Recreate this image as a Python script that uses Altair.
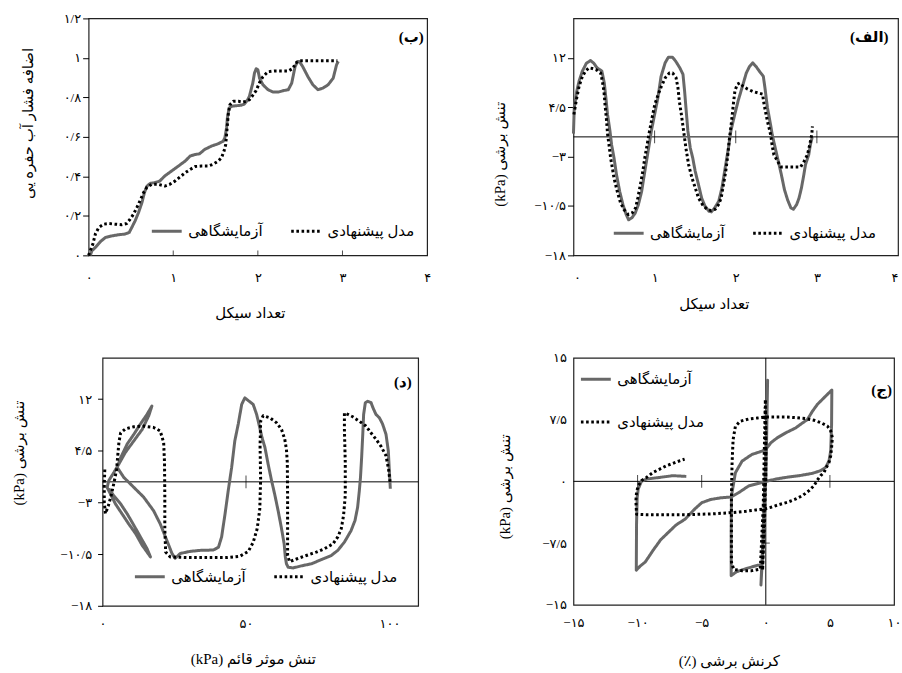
import altair as alt
import pandas as pd

FONT = "Liberation Serif, DejaVu Sans"
EXP = "آزمایشگاهی"
MOD = "مدل پیشنهادی"
SERIES = [EXP, MOD]
LINE_COLORS = ["#686868", "#000000"]
LINE_DASH = [[1, 0], [2.6, 2.6]]

# ---------------- panel (ب): pore pressure ratio vs cycles ----------------
b_exp_x = [0.02, 0.04, 0.08, 0.14, 0.20, 0.28, 0.35, 0.43, 0.48, 0.51, 0.55, 0.59, 0.63, 0.66, 0.69,
           0.73, 0.78, 0.84, 0.90, 0.98, 1.06, 1.14, 1.20, 1.26, 1.31, 1.37, 1.45, 1.53, 1.59, 1.61,
           1.63, 1.64, 1.66, 1.69, 1.75, 1.80, 1.84, 1.88, 1.90, 1.92, 1.94, 1.96, 1.98, 2.00, 2.02,
           2.06, 2.12, 2.18, 2.24, 2.30, 2.36, 2.40, 2.42, 2.44, 2.47, 2.49, 2.53, 2.59, 2.65, 2.71,
           2.77, 2.83, 2.89, 2.91, 2.93, 2.95]
b_exp_y = [0.0, 0.024, 0.04, 0.07, 0.091, 0.099, 0.104, 0.108, 0.116, 0.141, 0.175, 0.217, 0.267, 0.318, 0.351,
           0.365, 0.368, 0.376, 0.402, 0.427, 0.452, 0.477, 0.503, 0.511, 0.514, 0.536, 0.553, 0.565, 0.578, 0.595,
           0.645, 0.696, 0.746, 0.755, 0.758, 0.76, 0.766, 0.788, 0.805, 0.839, 0.872, 0.923, 0.945, 0.94, 0.897,
           0.864, 0.839, 0.827, 0.827, 0.834, 0.839, 0.872, 0.914, 0.956, 0.982, 0.982, 0.956, 0.906, 0.864, 0.839,
           0.847, 0.864, 0.897, 0.931, 0.965, 0.982]
b_mod_x = [0.0, 0.02, 0.05, 0.08, 0.12, 0.18, 0.24, 0.31, 0.39, 0.45, 0.49, 0.53, 0.57, 0.61, 0.65,
           0.69, 0.75, 0.82, 0.90, 0.96, 1.02, 1.08, 1.14, 1.20, 1.26, 1.33, 1.41, 1.47, 1.53, 1.57,
           1.60, 1.62, 1.63, 1.64, 1.65, 1.67, 1.71, 1.77, 1.82, 1.86, 1.90, 1.94, 1.98, 2.02, 2.06,
           2.12, 2.20, 2.28, 2.36, 2.42, 2.44, 2.49, 2.59, 2.71, 2.83, 2.94]
b_mod_y = [0.0, 0.024, 0.057, 0.108, 0.141, 0.158, 0.161, 0.158, 0.155, 0.161, 0.183, 0.208, 0.242, 0.279, 0.318,
           0.346, 0.36, 0.36, 0.351, 0.36, 0.376, 0.397, 0.418, 0.435, 0.45, 0.452, 0.452, 0.461, 0.477, 0.494,
           0.528, 0.561, 0.612, 0.662, 0.713, 0.763, 0.78, 0.78, 0.776, 0.78, 0.788, 0.81, 0.835, 0.875, 0.905,
           0.93, 0.934, 0.934, 0.934, 0.948, 0.973, 0.985, 0.985, 0.985, 0.985, 0.985]

# ---------------- panel (الف): shear stress vs cycles ----------------
a_exp_x = [0.0, 0.005, 0.01, 0.04, 0.07, 0.11, 0.16, 0.21, 0.25, 0.29, 0.35, 0.38, 0.40, 0.42, 0.45,
           0.47, 0.50, 0.53, 0.57, 0.61, 0.65, 0.68, 0.72, 0.76, 0.80, 0.84, 0.88, 0.92, 0.96, 1.00,
           1.04, 1.08, 1.13, 1.17, 1.22, 1.26, 1.31, 1.35, 1.37, 1.39, 1.41, 1.44, 1.47, 1.50, 1.54,
           1.58, 1.62, 1.67, 1.70, 1.74, 1.79, 1.83, 1.87, 1.91, 1.94, 1.98, 2.03, 2.09, 2.13, 2.17,
           2.21, 2.25, 2.29, 2.34, 2.36, 2.39, 2.43, 2.45, 2.50, 2.56, 2.60, 2.64, 2.68, 2.71, 2.75,
           2.78, 2.81, 2.84, 2.86, 2.90, 2.92, 2.945]
a_exp_y = [0.5, 2.5, 4.4, 6.9, 8.5, 10.0, 11.2, 11.6, 11.2, 10.5, 10.0, 8.2, 5.9, 3.4, 0.9,
           -1.2, -3.2, -5.7, -8.3, -10.3, -11.8, -12.6, -12.3, -11.6, -10.3, -8.3, -5.2, -2.2, 0.9, 3.4,
           5.9, 9.2, 11.25, 12.1, 12.1, 11.5, 10.5, 9.5, 6.9, 3.9, 0.9, -1.7, -3.2, -5.2, -7.2,
           -9.3, -10.5, -11.3, -11.4, -10.8, -9.8, -7.75, -4.7, -1.7, 0.9, 3.0, 5.5, 8.0, 9.7, 10.7,
           11.25, 10.7, 10.0, 9.2, 7.45, 4.5, 1.8, 0.3, -2.4, -5.6, -8.0, -9.6, -10.8, -11.0, -10.3,
           -9.3, -7.75, -5.7, -4.2, -2.7, -1.2, 0.1]
a_mod_x = [0.005, 0.04, 0.07, 0.11, 0.15, 0.19, 0.23, 0.28, 0.335, 0.356, 0.376, 0.389, 0.405, 0.421, 0.438,
           0.458, 0.479, 0.499, 0.54, 0.58, 0.62, 0.675, 0.724, 0.765, 0.793, 0.826, 0.855, 0.879, 0.908, 0.937,
           0.969, 1.002, 1.043, 1.084, 1.133, 1.182, 1.223, 1.264, 1.288, 1.305, 1.33, 1.358, 1.386, 1.419, 1.46,
           1.501, 1.542, 1.591, 1.644, 1.697, 1.746, 1.787, 1.82, 1.849, 1.877, 1.90, 1.92, 1.945, 1.97, 1.99,
           2.02, 2.05, 2.09, 2.14, 2.21, 2.27, 2.33, 2.35, 2.37, 2.39, 2.41, 2.43, 2.45, 2.47, 2.515,
           2.556, 2.68, 2.80, 2.843, 2.884, 2.912, 2.937, 2.945]
a_mod_y = [3.4, 5.9, 7.7, 9.2, 10.0, 10.5, 10.4, 10.2, 9.7, 8.5, 6.9, 4.9, 2.9, 0.35, -1.2,
           -3.2, -4.7, -6.2, -8.3, -10.0, -11.0, -11.8, -11.55, -10.8, -9.3, -7.2, -5.2, -3.2, -1.2, 0.86,
           2.9, 4.9, 6.4, 7.7, 9.0, 9.7, 9.7, 9.0, 7.45, 5.4, 3.4, 0.86, -1.7, -4.2, -6.2,
           -7.75, -9.3, -10.3, -11.0, -11.2, -11.0, -10.3, -9.3, -7.2, -5.2, -3.0, -0.5, 2.0, 4.9, 7.0,
           8.0, 8.2, 7.7, 7.3, 6.9, 6.7, 6.5, 4.9, 3.65, 2.4, 1.4, 0.35, -1.4, -2.7, -3.7,
           -4.56, -4.56, -4.56, -3.7, -2.7, -1.2, 0.35, 1.6]

# ---------------- panel (د): shear stress vs effective vertical stress ----------------
d_exp_x = [100.3, 99.9, 99.6, 98.8, 97.6, 96.5, 95.3, 94.2, 93.6, 92.4, 91.6, 91.0, 90.7, 90.3, 89.9,
           89.5, 88.9, 88.0, 86.6, 84.3, 82.0, 79.7, 76.2, 72.8, 69.3, 66.4, 64.7, 64.1, 63.7, 63.3,
           62.3, 61.2, 60.0, 58.9, 57.7, 56.6, 55.6, 54.5, 53.7, 52.5, 50.8, 49.6, 48.5, 47.3, 46.1,
           45.0, 43.8, 42.7, 41.5, 40.4, 38.6, 34.0, 30.5, 27.1, 25.3, 24.2, 22.4, 20.1, 17.8, 14.3,
           10.9, 7.4, 5.1, 6.3, 8.6, 10.9, 13.2, 15.5, 17.2, 16.1, 13.8, 10.9, 8.0, 5.7, 4.0,
           2.2, 1.6, 2.8, 4.5, 6.8, 9.1, 11.5, 13.8, 16.7, 15.5, 13.2, 10.9, 8.6, 6.3, 3.9, 2.2]
d_exp_y = [-1.0, 2.1, 4.5, 6.9, 8.4, 9.3, 9.8, 10.8, 11.5, 11.7, 11.5, 9.8, 6.9, 3.5, 0.65,
           -1.3, -3.7, -5.6, -7.1, -8.75, -9.95, -10.7, -11.3, -11.9, -12.2, -12.5, -12.4, -11.9, -10.9, -9.0,
           -6.6, -4.2, -1.8, 0.2, 2.6, 5.0, 6.4, 8.4, 9.8, 11.25, 11.8, 12.2, 11.25, 8.4, 5.95,
           2.1, -1.3, -4.65, -8.0, -9.5, -9.9, -9.95, -10.1, -10.4, -11.1, -10.4, -8.5, -6.1, -4.2, -2.2,
           -0.8, 0.65, 2.1, 3.5, 5.5, 6.9, 8.4, 9.8, 11.0, 9.6, 7.6, 5.95, 4.3, 2.6, 1.4,
           0.2, -0.8, -1.8, -3.2, -4.65, -6.1, -7.5, -9.2, -10.9, -9.7, -8.0, -6.3, -4.65, -3.2, -2.0, -1.0]
d_mod_x = [100.2, 99.7, 98.8, 97.0, 95.3, 93.6, 91.8, 89.5, 87.2, 85.5, 84.3, 84.3, 84.6, 84.6, 84.0,
           83.2, 82.0, 80.3, 77.4, 74.5, 71.0, 67.6, 65.2, 64.5, 64.5, 64.5, 64.4, 64.1, 63.5, 62.4,
           60.6, 58.3, 56.0, 55.1, 54.9, 55.1, 54.8, 53.9, 52.5, 50.8, 47.9, 43.3, 36.4, 29.4, 23.6,
           22.0, 21.7, 21.7, 21.6, 21.3, 20.1, 17.8, 14.3, 10.9, 8.0, 6.3, 5.7, 5.3, 4.9, 4.0,
           3.0, 2.0, 1.0, 0.6, 0.6, 0.8]
d_mod_y = [0.0, 1.8, 3.8, 5.2, 6.2, 7.1, 8.1, 8.8, 9.45, 9.8, 10.0, 7.6, 2.8, -2.0, -4.9,
           -6.8, -8.0, -9.0, -9.7, -10.2, -10.7, -11.2, -11.6, -10.7, -6.8, -2.0, 2.8, 4.7, 6.2, 7.6,
           8.6, 9.3, 9.6, 8.8, 5.2, 0.4, -3.95, -6.8, -8.8, -10.1, -10.8, -11.0, -11.0, -11.0, -10.9,
           -10.2, -6.8, -2.0, 2.8, 5.7, 7.4, 7.9, 8.1, 8.0, 7.7, 7.1, 5.7, 3.8, 1.8, -0.1,
           -2.0, -3.5, -4.6, -3.0, -0.5, 2.0]

# ---------------- panel (ج): shear stress vs shear strain ----------------
j_exp_x = [0.0, 0.08, 0.14, 0.05, -0.1, -0.25, -0.38, -0.2, 0.0, 0.1, 0.0, -0.3, -0.64, -1.54, -2.3,
           -2.7, -2.7, -2.68, -2.37, -1.85, -1.08, -0.3, 0.01, 0.4, 0.9, 1.56, 2.34, 2.86, 3.24, 3.63,
           4.02, 4.67, 5.15, 5.13, 5.06, 4.93, 4.67, 4.28, 3.63, 2.6, 1.56, 0.79, 0.01, -1.34, -2.11,
           -2.7, -3.5, -4.3, -5.0, -5.5, -6.3, -7.0, -7.6, -8.2, -8.8, -9.4, -9.8, -10.1, -10.08, -10.03,
           -9.95, -9.7, -9.3, -8.27, -7.24, -6.2]
j_exp_y = [0.0, 8.0, 12.3, 4.0, -4.0, -9.0, -12.6, -6.0, 2.0, 9.0, 3.0, -10.2, -10.2, -10.6, -11.0,
           -11.45, -6.0, -1.8, 1.05, 2.46, 3.27, 3.67, 3.9, 4.7, 5.3, 5.9, 6.5, 7.1, 7.5, 8.5,
           9.35, 10.36, 11.1, 6.9, 3.7, 2.5, 1.7, 1.3, 0.97, 0.69, 0.48, 0.28, 0.0, -0.56, -1.37,
           -1.9, -2.0, -2.2, -2.6, -3.3, -4.6, -5.3, -6.2, -7.1, -8.4, -9.8, -10.3, -10.8, -5.16, -1.94,
           -0.93, 0.0, 0.28, 0.48, 0.69, 0.6]
j_mod_x = [0.0, 0.0, -0.04, 0.02, -0.1, -0.25, -0.15, 0.0, -0.05, -0.2, -0.43, -1.08, -1.86, -2.5, -2.68,
           -2.68, -2.68, -2.63, -2.55, -2.37, -2.0, -1.28, -0.64, 0.01, 0.79, 1.56, 2.34, 3.12, 3.76, 4.28,
           4.8, 5.06, 5.19, 5.13, 5.06, 4.93, 4.72, 4.54, 4.28, 4.02, 3.76, 3.37, 2.86, 2.34, 1.69,
           1.05, 0.4, -0.12, -0.77, -1.54, -2.32, -3.1, -4.13, -5.17, -6.2, -7.24, -8.27, -9.3, -10.08, -10.13,
           -10.08, -9.95, -9.7, -9.3, -8.79, -8.27, -7.75, -7.24, -6.72, -6.33]
j_mod_y = [0.0, 6.0, 9.96, 3.0, -5.0, -10.8, -4.0, 4.0, 9.0, -3.0, -10.65, -10.85, -10.85, -10.7, -9.83,
           -5.8, -1.78, 2.26, 5.08, 6.69, 7.3, 7.6, 7.7, 7.82, 7.82, 7.82, 7.74, 7.62, 7.42, 7.14,
           6.73, 6.13, 5.32, 4.11, 3.1, 2.3, 1.69, 1.09, 0.69, 0.16, -0.52, -1.13, -1.73, -2.14, -2.54,
           -2.82, -3.15, -3.35, -3.47, -3.63, -3.75, -3.85, -3.95, -4.0, -4.05, -4.05, -4.05, -4.05, -4.0, -2.34,
           -1.33, -0.52, 0.08, 0.48, 1.09, 1.49, 1.9, 2.18, 2.5, 2.7]

# tick values
cyc_ticks = [0, 1, 2, 3, 4]
ru_ticks = [0, 0.2, 0.4, 0.6, 0.8, 1, 1.2]
tau_ticks = [-18, -10.5, -3, 4.5, 12]
sig_ticks = [0, 50, 100]
gam_ticks = [-15, -10, -5, 0, 5, 10]
tau2_ticks = [-15, -7.5, 0, 7.5, 15]

FA = str.maketrans("0123456789.-", "۰۱۲۳۴۵۶۷۸۹/−")


def fa(v):
    return f"{v:g}".translate(FA)


def label_expr(vals):
    s = ""
    for v in vals:
        s += f"abs(datum.value - ({v})) < 1e-6 ? '{fa(v)}' : "
    return s + "''"


def lines_df(ex, ey, mx, my):
    rows = []
    for i, (a, b) in enumerate(zip(ex, ey)):
        rows.append({"x": a, "y": b, "series": EXP, "idx": i})
    for i, (a, b) in enumerate(zip(mx, my)):
        rows.append({"x": a, "y": b, "series": MOD, "idx": i})
    return pd.DataFrame(rows)


def xaxis(vals, title, tx, ty, pad, flush=False):
    return alt.Axis(values=vals, labelExpr=label_expr(vals), ticks=False, tickSize=0, domain=False,
                    grid=False, labelPadding=pad, labelFlush=flush, labelOverlap=False,
                    labelFontSize=13, labelFont=FONT, labelColor="black",
                    title=title, titleX=tx, titleY=ty, titleBaseline="middle", titleAlign="center",
                    titleFont=FONT, titleFontSize=15, titleFontWeight="normal", titleColor="black")


def yaxis(vals, title, tx, ty, tick_size, pad, ticks=True):
    return alt.Axis(values=vals, labelExpr=label_expr(vals), ticks=ticks, tickSize=tick_size,
                    tickColor="black", domain=False, grid=False, labelPadding=pad, labelOverlap=False,
                    labelFontSize=13, labelFont=FONT, labelColor="black",
                    title=title, titleX=tx, titleY=ty, titleAngle=270, titleBaseline="middle",
                    titleAlign="center", titleFont=FONT, titleFontSize=15, titleFontWeight="normal",
                    titleColor="black")


def make_legend(lx, ly, direction, row_pad=2):
    return alt.Legend(orient="none", legendX=lx, legendY=ly, direction=direction, title=None,
                      symbolType="stroke", symbolSize=900, symbolStrokeWidth=3,
                      labelFont=FONT, labelFontSize=15, labelColor="black", labelLimit=300,
                      labelOffset=5, columnPadding=22, rowPadding=row_pad, padding=0)


def panel(df, xdom, ydom, w, h, xax, yax, legend, label, label_dy, label_dx,
          hline=None, vline=None, xt=None, yt=None, tick_clip=False, tick_size=13):
    xe = alt.X("x:Q", scale=alt.Scale(domain=xdom, nice=False, zero=False), axis=xax)
    ye = alt.Y("y:Q", scale=alt.Scale(domain=ydom, nice=False, zero=False), axis=yax)
    layers = []
    if hline is not None:
        layers.append(alt.Chart(pd.DataFrame({"y": hline})).mark_rule(color="black", strokeWidth=1)
                      .encode(y=ye))
    if vline is not None:
        layers.append(alt.Chart(pd.DataFrame({"x": vline})).mark_rule(color="black", strokeWidth=1)
                      .encode(x=xe))
    if xt is not None:
        layers.append(alt.Chart(pd.DataFrame({"x": xt, "y": [0] * len(xt)}))
                      .mark_tick(orient="vertical", size=tick_size, thickness=1, color="black", clip=tick_clip)
                      .encode(x=xe, y=ye))
    if yt is not None:
        layers.append(alt.Chart(pd.DataFrame({"x": [0] * len(yt), "y": yt}))
                      .mark_tick(orient="horizontal", size=8, thickness=1, color="black")
                      .encode(x=xe, y=ye))
    lines = alt.Chart(df).mark_line(strokeWidth=3, strokeJoin="round").encode(
        x=xe, y=ye,
        stroke=alt.Stroke("series:N", scale=alt.Scale(domain=SERIES, range=LINE_COLORS), legend=legend),
        strokeDash=alt.StrokeDash("series:N", scale=alt.Scale(domain=SERIES, range=LINE_DASH), legend=legend),
        order=alt.Order("idx:Q"),
    )
    layers.append(lines)
    return alt.layer(*layers).properties(
        width=w, height=h,
        title=alt.TitleParams(text=label, orient="top", anchor="end", offset=0, dy=label_dy, dx=label_dx,
                              baseline="middle", font=FONT, fontSize=15, fontWeight="bold", color="black"),
    )


pB = panel(lines_df(b_exp_x, b_exp_y, b_mod_x, b_mod_y), [0, 4], [0, 1.2], 340, 238,
           xaxis(cyc_ticks, "تعداد سیکل", 162, 57, 16),
           yaxis(ru_ticks, "اضافه فشار آب حفره یی", -61, 105, 6, 2),
           make_legend(62, 197, "horizontal"), "(ب)", 40, -7,
           xt=[1, 2, 3], tick_clip=True, tick_size=10)

pA = panel(lines_df(a_exp_x, a_exp_y, a_mod_x, a_mod_y), [0, 4], [-18, 18], 326, 238,
           xaxis(cyc_ticks, "تعداد سیکل", 141, 48, 16, flush=True),
           yaxis(tau_ticks, "(kPa) تنش برشی", -74, 136, 6, 2),
           make_legend(39, 199, "horizontal"), "(الف)", 34, -10,
           hline=[0], xt=[1, 2, 3])

pD = panel(lines_df(d_exp_x, d_exp_y, d_mod_x, d_mod_y), [0, 110], [-18, 18], 317, 249,
           xaxis(sig_ticks, "(kPa) تنش موثر قائم", 151, 53, 12),
           yaxis(tau_ticks, "(kPa) تنش برشی", -84, 95, 5, 6),
           make_legend(31, 203, "horizontal"), "(د)", 39, -7,
           hline=[0], xt=[50])

pJ = panel(lines_df(j_exp_x, j_exp_y, j_mod_x, j_mod_y), [-15, 10], [-15, 15], 322, 248,
           xaxis(gam_ticks, "(٪) کرنش برشی", 156, 56, 12),
           yaxis(tau2_ticks, "(kPa) تنش برشی", -69, 129, 0, 7, ticks=False),
           make_legend(6, 5, "vertical", row_pad=18), "(ج)", 53, -9,
           hline=[0], vline=[0], xt=[-10, -5, 5], yt=[-7.5])

spacer = alt.Chart(pd.DataFrame({"x": [0]})).mark_point(opacity=0).encode(
    x=alt.X("x:Q", axis=None), y=alt.Y("x:Q", axis=None)
).properties(width=14, height=249, view=alt.ViewBackground(strokeOpacity=0))

ind = dict(stroke="independent", strokeDash="independent")

top = alt.HConcatChart(hconcat=[pB, pA], spacing=147, bounds="flush").resolve_scale(**ind)
bottom_inner = alt.HConcatChart(hconcat=[pD, pJ], spacing=156, bounds="flush").resolve_scale(**ind)
bottom = alt.HConcatChart(hconcat=[spacer, bottom_inner], spacing=0, bounds="flush").resolve_scale(**ind)

# nested concat groups count as zero height under flush bounds, so the spacing
# here covers the top row's plot height (238) plus the gap between rows (103)
chart = alt.VConcatChart(vconcat=[top, bottom], spacing=341, bounds="flush").resolve_scale(**ind).properties(
    padding={"left": 11, "top": 10, "right": 0, "bottom": 0},
    background="white",
).configure_view(stroke="#222222", strokeWidth=1.2)

chart.save("out.html", embed_options={"renderer": "svg", "actions": False})
